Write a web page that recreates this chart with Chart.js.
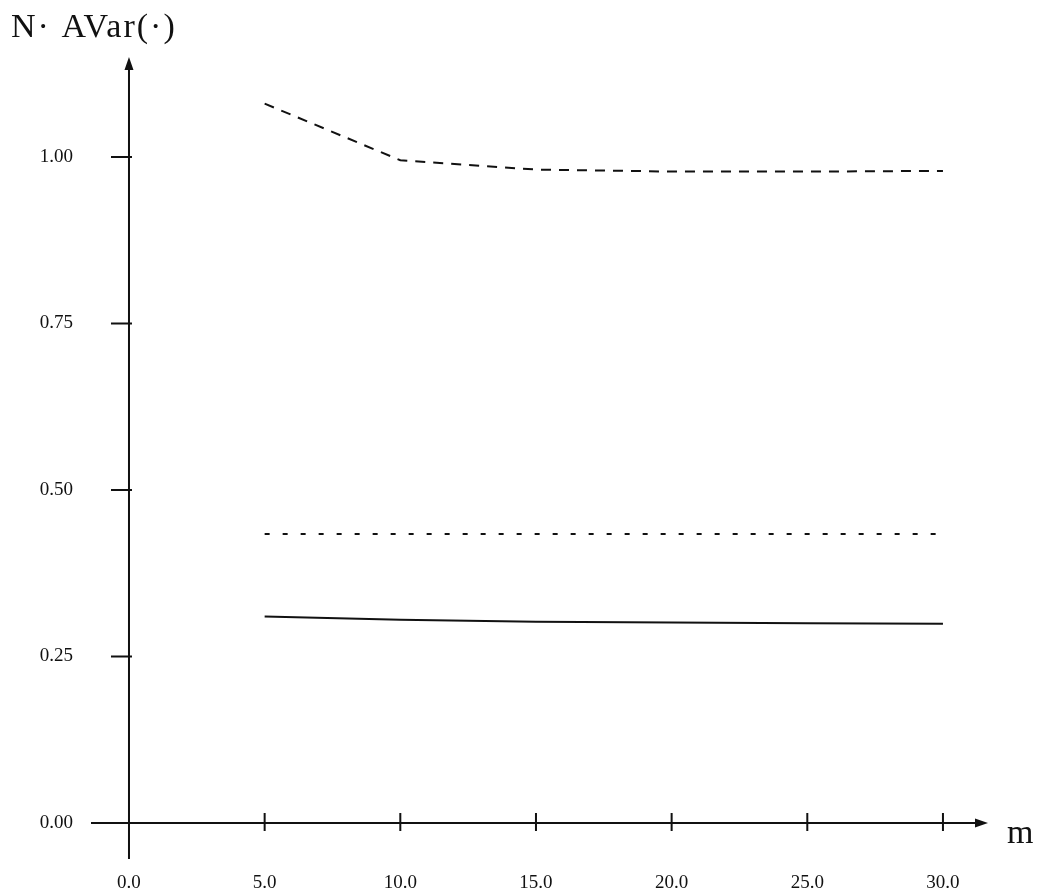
<!DOCTYPE html>
<html>
<head>
<meta charset="utf-8">
<script src="https://cdn.jsdelivr.net/npm/chart.js@4"></script>
<style>
  body { margin: 0; background: #fff; }
  #wrap { width: 1043px; height: 890px; position: relative; }
</style>
</head>
<body>
<div id="wrap"><canvas id="chart"></canvas></div>
<script>
const mValues = [5, 10, 15, 20, 25, 30];
const dashedSeries = [1.08, 0.995, 0.981, 0.978, 0.978, 0.979];
const dottedSeries = [0.434, 0.434, 0.434, 0.434, 0.434, 0.434];
const solidSeries = [0.310, 0.305, 0.302, 0.301, 0.300, 0.299];
const xTicks = [0, 5, 10, 15, 20, 25, 30];
const yTicks = [0, 0.25, 0.5, 0.75, 1.0];
const yAxisTitle = "N\u00B7 AVar(\u00B7)";
const xAxisTitle = "m";

const INK = "#111";
const FONT = "'Liberation Serif', 'DejaVu Serif', serif";

function points(values) {
  return mValues.map((m, i) => ({ x: m, y: values[i] }));
}

function lineDataset(values, dash) {
  return {
    data: points(values),
    borderColor: INK,
    borderWidth: 2,
    borderDash: dash,
    pointRadius: 0,
    tension: 0,
    fill: false,
  };
}

// Axes cross at the origin with arrow heads, so they are drawn by hand
// on top of the (hidden) chart.js scales.
const crossAxes = {
  id: "crossAxes",
  afterDraw(chart) {
    const { ctx, chartArea, scales } = chart;
    const x0 = scales.x.getPixelForValue(0);
    const y0 = scales.y.getPixelForValue(0);
    ctx.save();
    ctx.strokeStyle = INK;
    ctx.fillStyle = INK;
    ctx.lineWidth = 2;

    ctx.beginPath();
    ctx.moveTo(x0, chartArea.bottom);
    ctx.lineTo(x0, chartArea.top + 8);
    ctx.moveTo(chartArea.left, y0);
    ctx.lineTo(chartArea.right - 8, y0);
    for (const v of yTicks) {
      const y = scales.y.getPixelForValue(v);
      ctx.moveTo(x0 - 18, y);
      ctx.lineTo(x0 + 3, y);
    }
    for (const v of xTicks.slice(1)) {
      const x = scales.x.getPixelForValue(v);
      ctx.moveTo(x, y0 - 10);
      ctx.lineTo(x, y0 + 8);
    }
    ctx.stroke();

    ctx.beginPath();
    ctx.moveTo(x0, chartArea.top);
    ctx.lineTo(x0 - 4.5, chartArea.top + 13);
    ctx.lineTo(x0 + 4.5, chartArea.top + 13);
    ctx.closePath();
    ctx.moveTo(chartArea.right, y0);
    ctx.lineTo(chartArea.right - 13, y0 - 4.5);
    ctx.lineTo(chartArea.right - 13, y0 + 4.5);
    ctx.closePath();
    ctx.fill();

    ctx.font = `34px ${FONT}`;
    ctx.letterSpacing = "2px";
    ctx.textBaseline = "alphabetic";
    ctx.textAlign = "left";
    ctx.fillText(yAxisTitle, 11, 37);
    ctx.fillText(xAxisTitle, 1007, 843);
    ctx.restore();
  },
};

new Chart(document.getElementById("chart"), {
  type: "line",
  data: {
    datasets: [
      lineDataset(dashedSeries, [10, 8]),
      lineDataset(dottedSeries, [5, 13]),
      lineDataset(solidSeries, []),
    ],
  },
  options: {
    responsive: true,
    maintainAspectRatio: false,
    animation: false,
    layout: { padding: { top: 57, right: 55, left: 0, bottom: 0 } },
    plugins: { legend: { display: false }, tooltip: { enabled: false } },
    scales: {
      x: {
        type: "linear",
        min: -1.4,
        max: 31.66,
        grid: { display: false },
        border: { display: false },
        afterBuildTicks: (scale) => {
          scale.ticks = xTicks.map((value) => ({ value }));
        },
        afterFit: (scale) => {
          scale.height = 31;
        },
        ticks: {
          color: INK,
          padding: 5,
          maxRotation: 0,
          autoSkip: false,
          font: { family: FONT, size: 19 },
          callback: (v) => v.toFixed(1),
        },
      },
      y: {
        type: "linear",
        min: -0.054,
        max: 1.15,
        grid: { display: false },
        border: { display: false },
        afterBuildTicks: (scale) => {
          scale.ticks = yTicks.map((value) => ({ value }));
        },
        afterFit: (scale) => {
          scale.width = 91;
        },
        ticks: {
          color: INK,
          padding: 10,
          autoSkip: false,
          font: { family: FONT, size: 19 },
          callback: (v) => v.toFixed(2),
        },
      },
    },
  },
  plugins: [crossAxes],
});
</script>
</body>
</html>
